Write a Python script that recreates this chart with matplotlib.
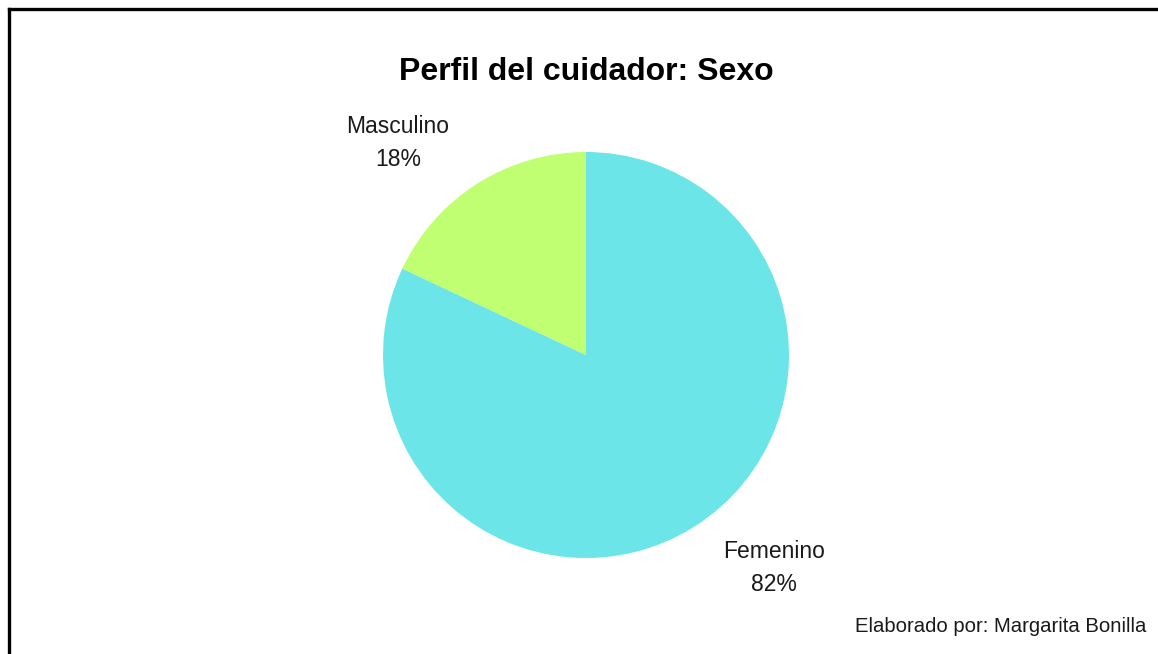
import matplotlib
matplotlib.use("Agg")
import matplotlib.pyplot as plt
from matplotlib.lines import Line2D

plt.rcParams['font.family'] = ['Liberation Sans', 'DejaVu Sans']

# Data
categories = ["Femenino", "Masculino"]
shares = [82, 18]
colors = ["#6ce5e8", "#c1ff72"]

title = "Perfil del cuidador: Sexo"
credit = "Elaborado por: Margarita Bonilla"

W, H, DPI = 1158, 654, 100
fig = plt.figure(figsize=(W / DPI, H / DPI), dpi=DPI)
fig.patch.set_facecolor("white")


def fx(x):
    return x / W


def fy(y):
    return 1 - y / H


# Pie axes: centre (586, 355) px, radius ~203 px
cx, cy, r = 586, 355, 203
ax = fig.add_axes([(cx - r) / W, 1 - (cy + r) / H, 2 * r / W, 2 * r / H])
ax.pie(shares, colors=colors, startangle=90, counterclock=False,
       radius=1.0, wedgeprops=dict(linewidth=0))
ax.set_xlim(-1, 1)
ax.set_ylim(-1, 1)
ax.set_aspect("equal")
ax.axis("off")

# Outside labels: category name above, percentage below (baselines in px)
label_pos = {"Masculino": (398, 133, 166), "Femenino": (774, 558, 591)}
for name, val in zip(categories, shares):
    x, y_name, y_pct = label_pos[name]
    fig.text(fx(x), fy(y_name), name, ha="center", va="baseline",
             fontsize=16.5, color="#1a1a1a")
    fig.text(fx(x), fy(y_pct), f"{val}%", ha="center", va="baseline",
             fontsize=16.5, color="#1a1a1a")

fig.text(fx(586), fy(80), title, ha="center", va="baseline",
         fontsize=23, fontweight="bold", color="black")
fig.text(fx(1146), fy(632), credit, ha="right", va="baseline",
         fontsize=14.6, color="#1a1a1a")

# Frame lines along top and left edges
fig.add_artist(Line2D([fx(9), fx(9)], [0, fy(8.5)], color="black", lw=2.4,
                      transform=fig.transFigure, solid_capstyle="projecting"))
fig.add_artist(Line2D([fx(9), 1], [fy(8.5), fy(8.5)], color="black", lw=2.4,
                      transform=fig.transFigure, solid_capstyle="projecting"))

fig.savefig("out.png", dpi=DPI, facecolor="white")
